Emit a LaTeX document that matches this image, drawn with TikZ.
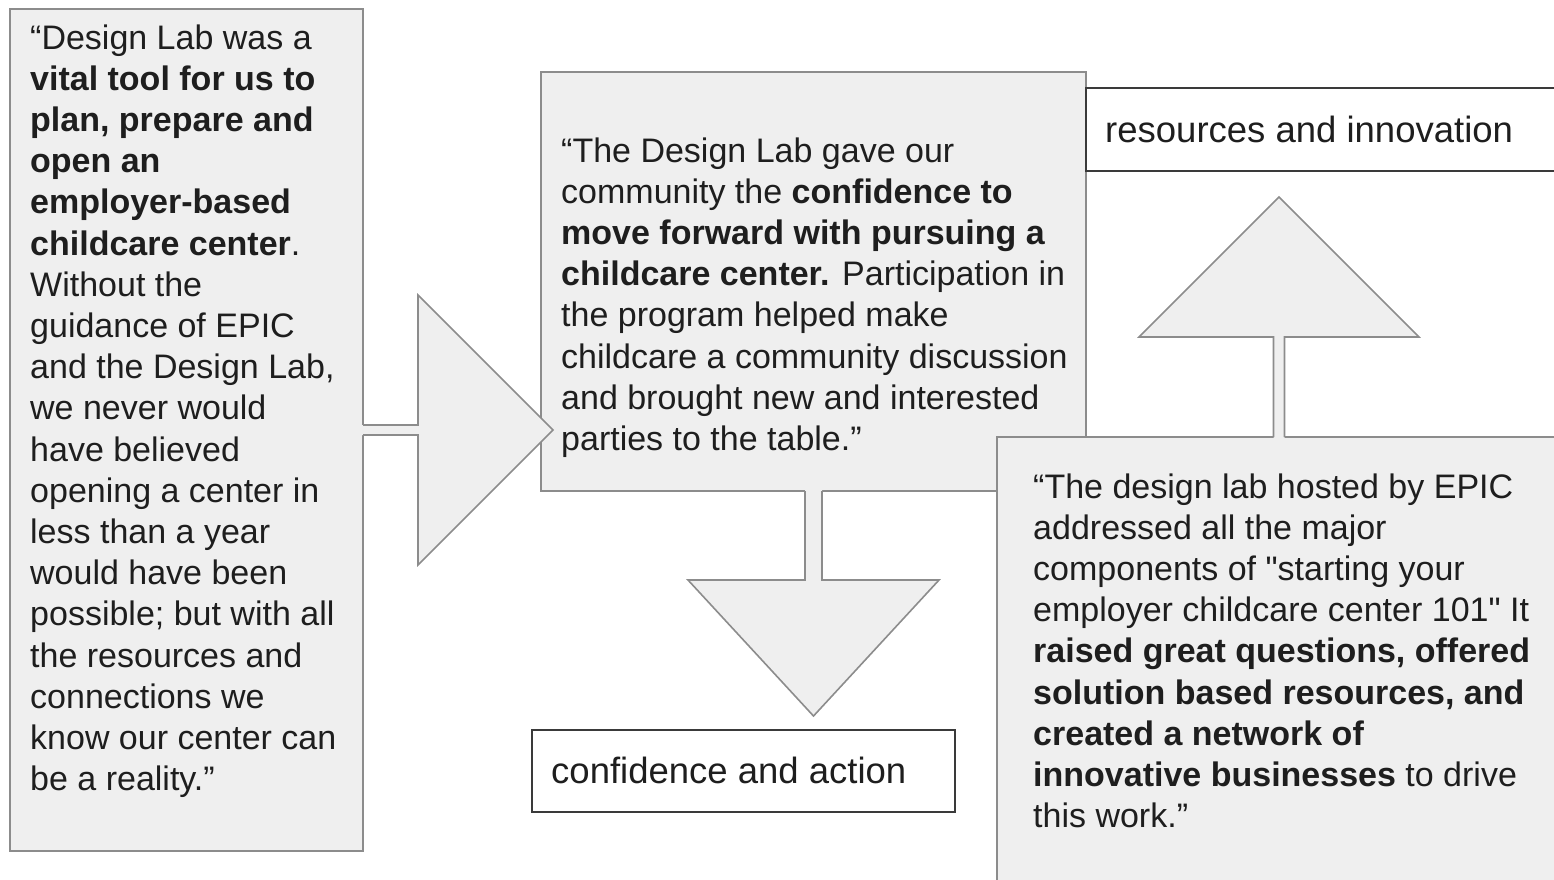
\documentclass[tikz,border=0pt]{standalone}
\usepackage{fontspec}
\setmainfont{Liberation Sans}[Ligatures=TeXOff]
\usetikzlibrary{calc}
\definecolor{boxfill}{HTML}{EFEFEF}
\definecolor{boxline}{HTML}{8C8C8C}
\definecolor{labline}{HTML}{3A3A3A}
\definecolor{txt}{HTML}{1E1E1E}
\newcommand{\ql}[1]{\hbox{#1}}
\begin{document}
\begin{tikzpicture}[x=1pt,y=-1pt,
  qbox/.style={draw=boxline, fill=boxfill, line width=1.8pt, anchor=north west, inner sep=0pt, outer sep=0pt},
  lbox/.style={draw=labline, fill=white, line width=2pt, anchor=north west, inner sep=0pt, outer sep=0pt},
  qtext/.style={anchor=base west, inner sep=0pt, text=txt, font=\fontsize{34}{41.2}\selectfont},
  ltext/.style={anchor=base west, inner sep=0pt, text=txt, font=\fontsize{36.5}{44}\selectfont},
  blockfill/.style={fill=boxfill},
  blockline/.style={draw=boxline, line width=1.6pt, line join=miter}
]
\useasboundingbox (0,0) rectangle (1554,879);
\fill[white] (0,0) rectangle (1554,879);

% boxes
\node[qbox, minimum width=353pt, minimum height=842pt] (q1) at (10,9) {};
\node[qbox, minimum width=545pt, minimum height=419pt] (q2) at (541,72) {};
\node[lbox, minimum width=480pt, minimum height=83pt] (lres) at (1086,88) {};
\node[qbox, minimum width=564pt, minimum height=470pt] (q3) at (997,437) {};
\node[lbox, minimum width=423pt, minimum height=82pt] (lconf) at (532,730) {};

% right block arrow: q1 -> q2
\begin{scope}[shift={(q1.east)}]
  \fill[blockfill] (-2,-5) -- (55,-5) -- (55,-135) -- (190,0) -- (55,135) -- (55,5) -- (-2,5) -- cycle;
  \draw[blockline] (0,-5) -- (55,-5) -- (55,-135) -- (190,0) -- (55,135) -- (55,5) -- (0,5);
\end{scope}

% down block arrow: q2 -> lconf
\begin{scope}[shift={(q2.south)}]
  \fill[blockfill] (-8.5,-2) -- (-8.5,89) -- (-125.5,89) -- (0,225) -- (125.5,89) -- (8.5,89) -- (8.5,-2) -- cycle;
  \draw[blockline] (-8.5,0) -- (-8.5,89) -- (-125.5,89) -- (0,225) -- (125.5,89) -- (8.5,89) -- (8.5,0);
\end{scope}

% up block arrow: q3 -> lres
\begin{scope}[shift={(q3.north)}]
  \fill[blockfill] (-5.5,2) -- (-5.5,-100) -- (-140,-100) -- (0,-240) -- (140,-100) -- (5.5,-100) -- (5.5,2) -- cycle;
  \draw[blockline] (-5.5,0) -- (-5.5,-100) -- (-140,-100) -- (0,-240) -- (140,-100) -- (5.5,-100) -- (5.5,0);
\end{scope}

% texts
\node[qtext] (t1) at (30,49) {\vtop{%
\ql{“Design Lab was a}
\ql{\textbf{vital tool for us to}}
\ql{\textbf{plan, prepare and}}
\ql{\textbf{open an}}
\ql{\textbf{employer-based}}
\ql{\textbf{childcare center}.}
\ql{Without the}
\ql{guidance of EPIC}
\ql{and the Design Lab,}
\ql{we never would}
\ql{have believed}
\ql{opening a center in}
\ql{less than a year}
\ql{would have been}
\ql{possible; but with all}
\ql{the resources and}
\ql{connections we}
\ql{know our center can}
\ql{be a reality.”}}};

\node[qtext] (t2) at (561,162) {\vtop{%
\ql{“The Design Lab gave our}
\ql{community the \textbf{confidence to}}
\ql{\textbf{move forward with pursuing a}}
\ql{\textbf{childcare center.} Participation in}
\ql{the program helped make}
\ql{childcare a community discussion}
\ql{and brought new and interested}
\ql{parties to the table.”}}};

\node[qtext] (t3) at (1033,498) {\vtop{%
\ql{“The design lab hosted by EPIC}
\ql{addressed all the major}
\ql{components of "starting your}
\ql{employer childcare center 101" It}
\ql{\textbf{raised great questions, offered}}
\ql{\textbf{solution based resources, and}}
\ql{\textbf{created a network of}}
\ql{\textbf{innovative businesses} to drive}
\ql{this work.”}}};

\node[ltext] (tres) at (1105,142) {resources and innovation};
\node[ltext] (tconf) at (551,783) {confidence and action};
\end{tikzpicture}
\end{document}
